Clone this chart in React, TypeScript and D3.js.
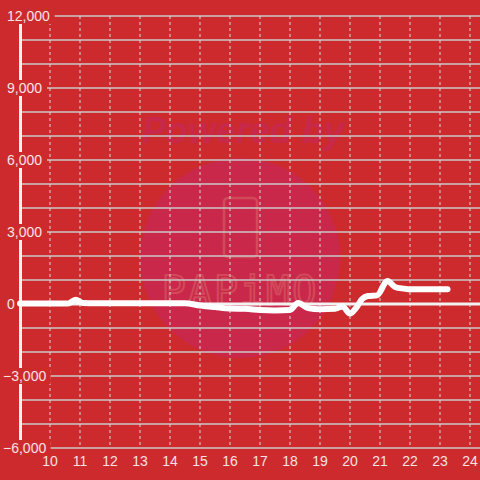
import React from "react";
import * as d3 from "d3";

const xValues = [9.0, 10.6, 10.85, 11.1, 11.3, 14.0, 14.5, 15.0, 15.5, 16.0, 16.5, 17.0, 17.5, 18.0, 18.27, 18.6, 19.0, 19.5, 19.75, 20.0, 20.2, 20.4, 20.6, 20.9, 21.25, 21.5, 21.8, 22.0, 23.25];
const yValues = [20, 20, 180, 40, 35, 35, 35, -60, -130, -190, -200, -250, -270, -250, 40, -170, -220, -200, -100, -400, -170, 200, 330, 360, 960, 710, 640, 610, 610];
const xTicks = [10, 11, 12, 13, 14, 15, 16, 17, 18, 19, 20, 21, 22, 23, 24];
const yGrid = d3.range(-6000, 12001, 1000);
const yLabels = [12000, 9000, 6000, 3000, 0, -3000, -6000];

const W = 480;
const H = 480;
const BG = "#cd2a2e";
const FONT = "'Liberation Sans', Arial, sans-serif";

export default function App() {
  const x = d3.scaleLinear().domain([9, 24.333]).range([20, 480]);
  const y = d3.scaleLinear().domain([-6000, 12000]).range([448, 16]);
  const data = xValues.map((v, i) => [v, yValues[i]] as [number, number]);
  const line = d3
    .line<[number, number]>()
    .x((d) => x(d[0]))
    .y((d) => y(d[1]))
    .curve(d3.curveMonotoneX);
  const fmt = d3.format(",");

  return (
    <svg width={W} height={H} style={{ position: "absolute", left: 0, top: 0 }}>
      <rect x={0} y={0} width={W} height={H} fill={BG} />
      {/* watermark */}
      <circle cx={240} cy={258} r={100} fill="#c9284a" />
      <text x={243} y={143} textAnchor="middle" fontFamily={FONT} fontWeight="bold" fontStyle="italic" fontSize={36} fill="#c8284a">
        Powered by
      </text>
      <rect x={224} y={198} width={33} height={59} rx={4} fill="none" stroke="#d24a5a" strokeWidth={2.5} />
      <text x={240} y={305} textAnchor="middle" fontFamily="'DejaVu Sans Mono', monospace" fontSize={40} fill="none" stroke="#d24a5a" strokeWidth={2} letterSpacing={2}>
        PAPiMO
      </text>
      {/* horizontal grid */}
      {yGrid.map((v) => (
        <line key={"h" + v} x1={20} x2={480} y1={y(v)} y2={y(v)} stroke="#c9c9c9" strokeWidth={1.5} />
      ))}
      {/* vertical grid */}
      {xTicks.map((v) => (
        <line key={"v" + v} x1={x(v)} x2={x(v)} y1={16} y2={448} stroke="#d8d8d8" strokeWidth={1} strokeDasharray="3,3" />
      ))}
      {/* zero line */}
      <line x1={20} x2={480} y1={y(0)} y2={y(0)} stroke="#f2f2f2" strokeWidth={3} />
      {/* y axis line */}
      <line x1={20.5} x2={20.5} y1={16} y2={448} stroke="#f2f2f2" strokeWidth={3} />
      {/* data line */}
      <path d={line(data) || ""} fill="none" stroke="#ffffff" strokeWidth={6} strokeLinecap="round" strokeLinejoin="round" />
      {/* y labels with background */}
      {yLabels.map((v) => {
        const s = fmt(v);
        const lx = v < 0 ? 3 : 7;
        const w = s.length * 7.6 + 4;
        return (
          <g key={"yl" + v}>
            <rect x={lx - 2} y={y(v) - 8} width={w} height={16} fill={BG} />
            <text x={lx} y={y(v)} dy="0.35em" fontFamily={FONT} fontSize={14} fill="#f5e3e3">
              {s}
            </text>
          </g>
        );
      })}
      {/* x labels */}
      {xTicks.map((v) => (
        <text key={"xl" + v} x={x(v)} y={461} dy="0.35em" textAnchor="middle" fontFamily={FONT} fontSize={14} fill="#f5e3e3">
          {v}
        </text>
      ))}
    </svg>
  );
}
